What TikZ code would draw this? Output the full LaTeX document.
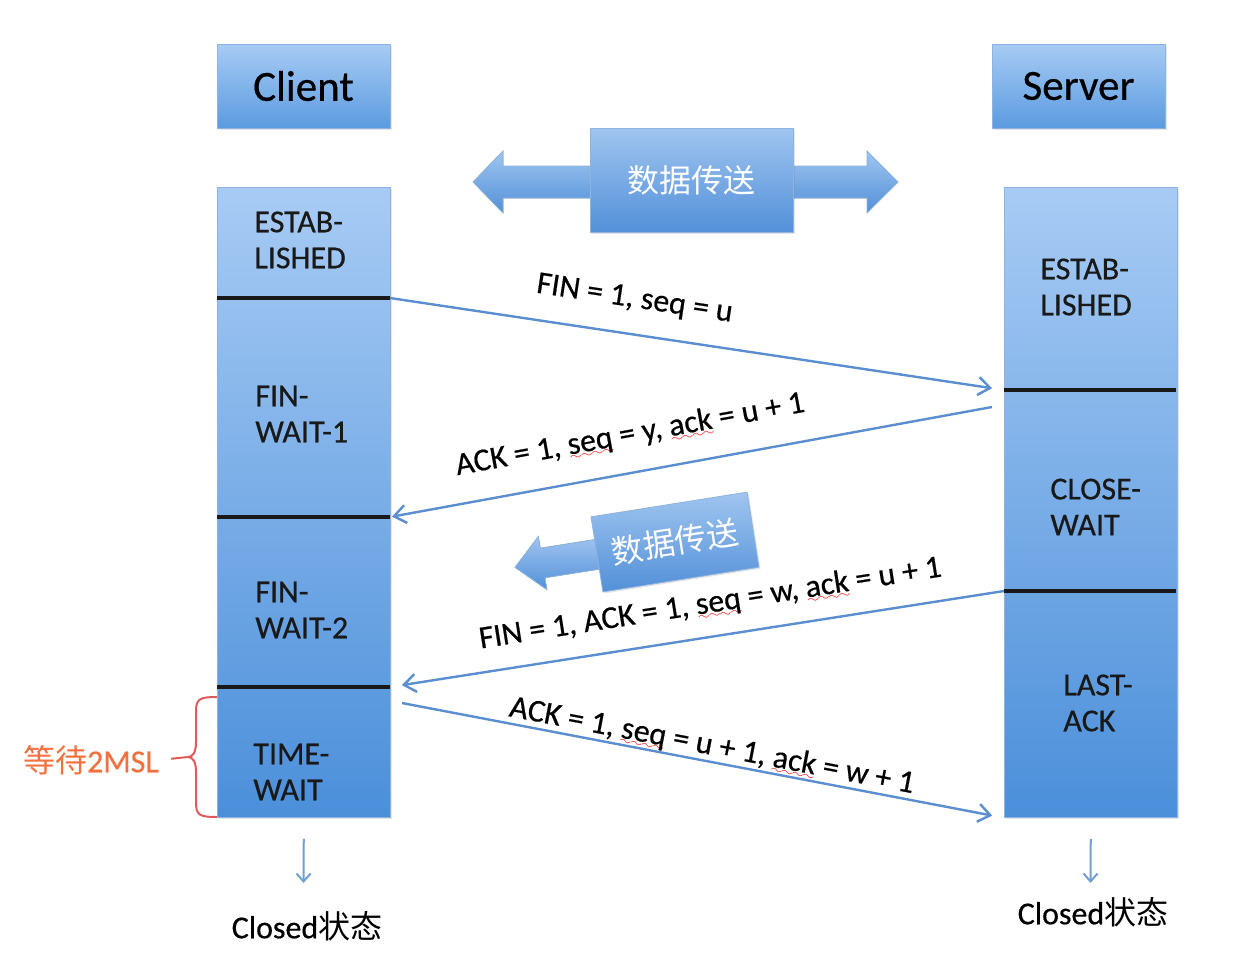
\documentclass[tikz,border=0pt]{standalone}
\usepackage{fontspec}
\setmainfont{Carlito}[FakeBold=0.5]
\newfontfamily\cjk{Noto Sans CJK SC}
\usetikzlibrary{arrows.meta,shadows}

\definecolor{boxtop}{HTML}{A7CBF4}
\definecolor{hdrbot}{HTML}{5B9BE0}
\definecolor{colbot}{HTML}{4B8FDA}
\definecolor{boxedge}{HTML}{8DB3DE}
\definecolor{datatop}{HTML}{A0C5F0}
\definecolor{databot}{HTML}{5290D8}
\definecolor{msgblue}{HTML}{5A8ED0}
\definecolor{downblue}{HTML}{6F9FD3}
\definecolor{bracered}{HTML}{E05A5A}
\definecolor{waitorange}{HTML}{F2713F}

% red spell-check squiggle under a word
\font\wavefont=lasy6
\newsavebox\wavebox
\newcommand\spellwave[1]{\sbox\wavebox{#1}%
    \makebox[0pt][l]{\raisebox{-3pt}{\hbox to\wd\wavebox{\color{red}\xleaders\hbox{\wavefont\char58}\hfil}}}%
    \usebox\wavebox}

\begin{document}
\begin{tikzpicture}[x=0.5pt, y=-0.5pt,
    hdr/.style={draw=boxedge, line width=0.4pt, top color=boxtop, bottom color=hdrbot,
        minimum width=86.5pt, minimum height=42pt, inner sep=0pt,
        font=\fontsize{21.5}{24}\selectfont,
        drop shadow={opacity=0.2, shadow xshift=0.8pt, shadow yshift=-0.8pt}},
    col/.style={draw=boxedge, line width=0.4pt, top color=boxtop, bottom color=colbot,
        minimum width=86.5pt, minimum height=315pt, anchor=north west, inner sep=0pt,
        drop shadow={opacity=0.2, shadow xshift=0.8pt, shadow yshift=-0.8pt}},
    state/.style={font=\fontsize{16}{18}\selectfont, align=left, anchor=west,
        text=black!90, inner sep=0pt},
    divider/.style={line width=2.2pt, black!90},
    msg/.style={draw=msgblue, line width=1.2pt, -{Straight Barb[length=6pt,width=9pt]}},
    lbl/.style={font=\fontsize{16}{18}\selectfont, sloped, anchor=base, inner sep=0pt,
        yshift=#1},
    lbl/.default=13pt,
    data/.style={draw=boxedge, line width=0.4pt, top color=datatop, bottom color=databot,
        text=white, inner sep=0pt, font=\cjk\fontsize{16}{18}\selectfont,
        drop shadow={opacity=0.2, shadow xshift=0.8pt, shadow yshift=-0.8pt}},
    bigarrow/.style={draw=boxedge, line width=0.4pt, top color=datatop, bottom color=databot},
    down/.style={draw=downblue, line width=1pt, -{Straight Barb[length=4pt,width=7pt]}},
    brace/.style={draw=bracered, line width=1pt},
    closed/.style={font=\fontsize{16}{18}\selectfont, inner sep=0pt}
]
    \useasboundingbox (0,0) rectangle (1244,976);

    % Client - header, column and its states
    \node[hdr] (chdr) at (303.5,86) {Client};
    \node[col] (cli) at (217,187) {};
    \foreach \y/\n in {298/1,517/2,687/3} {
        \draw[divider] (217,\y) -- (390,\y) coordinate (cd\n);
    }
    \node[state] (cest) at (254,240) {ESTAB-\\LISHED};
    \node[state] (cfw1) at (255,414) {FIN-\\WAIT-1};
    \node[state] (cfw2) at (255,610) {FIN-\\WAIT-2};
    \node[state] (ctw) at (253,772) {TIME-\\WAIT};

    % Server - header, column and its states
    \node[hdr] (shdr) at (1078.5,86) {Server};
    \node[col] (srv) at (1004,187) {};
    \foreach \y/\n in {390/1,591/2} {
        \draw[divider] (1004,\y) coordinate (sd\n) -- (1176,\y);
    }
    \node[state] (sest) at (1040,287) {ESTAB-\\LISHED};
    \node[state] (scw) at (1050,507) {CLOSE-\\WAIT};
    \node[state] (sla) at (1063,703) {LAST-\\ACK};

    % Data transfer - both ways
    \filldraw[bigarrow] (473,182) -- (503,151) -- (503,166) -- (867,166) -- (867,151)
        -- (898,182) -- (867,213) -- (867,198) -- (503,198) -- (503,213) -- cycle;
    \node[data, minimum width=101.5pt, minimum height=52pt] (xfer) at (691.5,180) {数据传送};

    % Data transfer - server to client only
    \begin{scope}[shift={(675,542)}, rotate=9]
        \filldraw[bigarrow] (-162,0) -- (-134,-27) -- (-134,-15) -- (-70,-15) -- (-70,15)
            -- (-134,15) -- (-134,27) -- cycle;
        \node[data, transform shape, minimum width=79pt, minimum height=38pt] (xfer2) at (0,0) {数据传送};
    \end{scope}

    % Segments
    \coordinate (s2out) at (992,407);
    \coordinate (c4out) at (402,703);
    \draw[msg, shorten >=6pt] (cd1) -- (sd1)
        node[lbl=13.5pt, pos=0.39] {FIN = 1, seq = u};
    \draw[msg, shorten >=1pt] (s2out) -- (cd2)
        node[lbl=14.5pt, pos=0.59] {ACK = 1, \spellwave{seq} = y, \spellwave{ack} = u + 1};
    \draw[msg, shorten >=6pt] (sd2) -- (cd3)
        node[lbl=12pt, pos=0.47] {FIN = 1, ACK = 1, \spellwave{seq} = w, \spellwave{ack} = u + 1};
    \draw[msg, shorten >=6pt] (c4out) -- (srv.south west)
        node[lbl=3.5pt, pos=0.51] {ACK = 1, \spellwave{seq} = u + 1, \spellwave{ack} = w + 1};

    % Closed states
    \node[closed] (cclosed) at (307,926) {Closed{\cjk 状态}};
    \node[closed] (sclosed) at (1093,912) {Closed{\cjk 状态}};
    \coordinate (cdn) at (303.5,883);
    \coordinate (sdn) at (1090.5,883);
    \draw[down, shorten <=10.5pt] (cli.south) -- (cdn);
    \draw[down, shorten <=10.5pt] (srv.south) -- (sdn);

    % Wait 2MSL - brace on TIME-WAIT
    \draw[brace] (217,697) .. controls (199,697) and (196,699) .. (196,712) -- (196,742)
        .. controls (196,752) and (193,757) .. (188,757)
        .. controls (193,757) and (196,762) .. (196,772) -- (196,802)
        .. controls (196,815) and (199,817) .. (217,817);
    \coordinate (bt) at (188,757);
    \node[font=\fontsize{16}{18}\selectfont, text=waitorange, inner sep=0pt] (wait) at (91,760) {{\cjk 等待}2MSL};
    \draw[brace, shorten <=6pt] (wait.east) -- (bt);
\end{tikzpicture}
\end{document}
